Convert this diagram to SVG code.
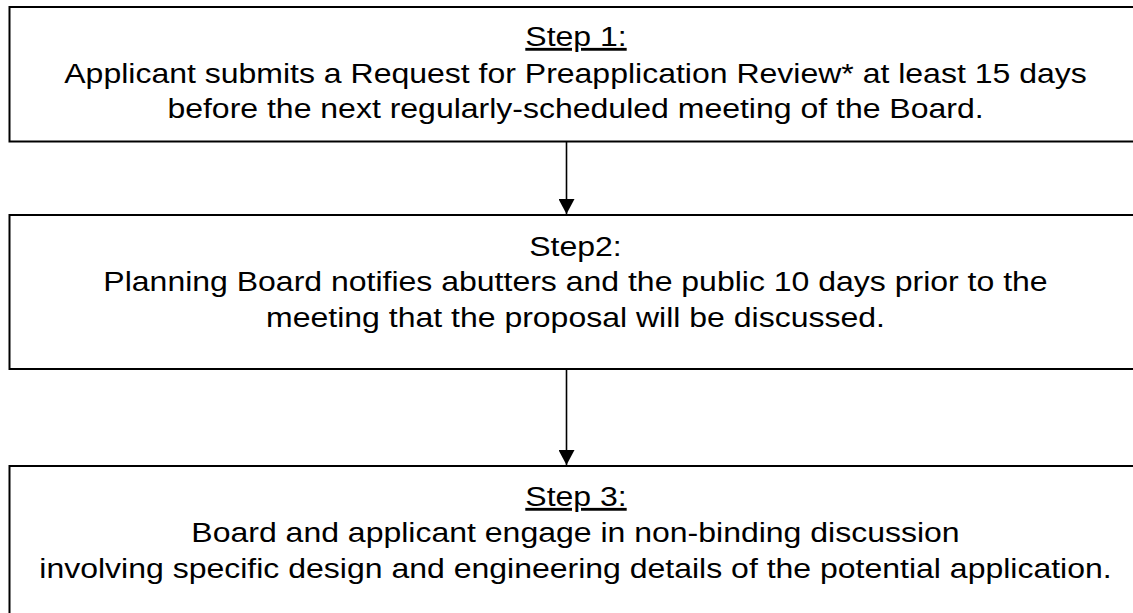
<svg xmlns="http://www.w3.org/2000/svg" width="1133" height="613" viewBox="0 0 1133 613">
  <style>
    .box { fill: #ffffff; stroke: #000000; stroke-width: 2; }
    .t { font-family: "Liberation Sans", Arial, sans-serif; font-size: 32px; fill: #000000; text-anchor: middle; }
    .u { text-decoration: underline; }
    .conn { stroke: #000000; stroke-width: 1.6; fill: none; }
  </style>
  <defs>
    <marker id="arrow" markerUnits="userSpaceOnUse" markerWidth="16" markerHeight="16" viewBox="0 0 16 16" refX="15" refY="8" orient="auto">
      <path d="M0,0 L15,8 L0,16 Z" fill="#000000"/>
    </marker>
  </defs>
  <rect width="1133" height="613" fill="#ffffff"/>
  <g id="step1">
    <rect class="box" x="9.5" y="7" width="1140" height="134.5"/>
    <text class="t u" transform="translate(576 46) scale(1 0.89)">Step 1:</text>
    <text class="t" transform="translate(575.5 83) scale(1 0.89)">Applicant submits a Request for Preapplication Review* at least 15 days</text>
    <text class="t" transform="translate(575.5 118) scale(1 0.89)">before the next regularly-scheduled meeting of the Board.</text>
  </g>
  <g id="step2">
    <rect class="box" x="9.5" y="215" width="1140" height="154"/>
    <text class="t" transform="translate(575.5 256) scale(1 0.89)">Step2:</text>
    <text class="t" transform="translate(575.5 291) scale(1 0.89)">Planning Board notifies abutters and the public 10 days prior to the</text>
    <text class="t" transform="translate(575.5 327) scale(1 0.89)">meeting that the proposal will be discussed.</text>
  </g>
  <g id="step3">
    <rect class="box" x="9.5" y="466" width="1140" height="160"/>
    <text class="t u" transform="translate(576 506) scale(1 0.89)">Step 3:</text>
    <text class="t" transform="translate(575.5 542) scale(1 0.89)">Board and applicant engage in non-binding discussion</text>
    <text class="t" transform="translate(575.5 578) scale(1 0.89)">involving specific design and engineering details of the potential application.</text>
  </g>
  <g id="connectors">
    <line class="conn" x1="566.5" y1="142" x2="566.5" y2="214" marker-end="url(#arrow)"/>
    <line class="conn" x1="566.5" y1="370" x2="566.5" y2="465" marker-end="url(#arrow)"/>
  </g>
</svg>
